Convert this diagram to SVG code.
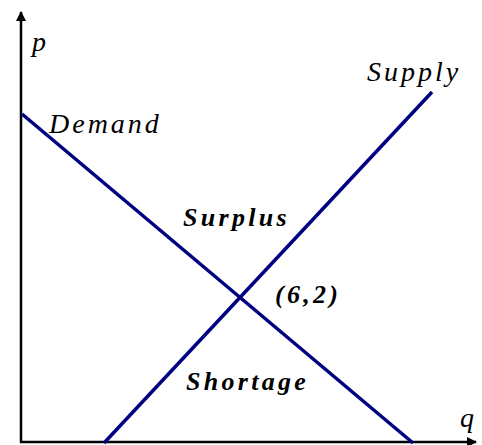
<svg xmlns="http://www.w3.org/2000/svg" width="482" height="445" viewBox="0 0 482 445">
<style>
.ax{stroke:#000;stroke-width:2.5;fill:none}
.cv{stroke:#000080;stroke-width:3.5;fill:none}
.t{font-family:"Liberation Serif","Times New Roman",serif;font-style:italic;font-size:28px;fill:#000;letter-spacing:3px}
.b{font-family:"Liberation Serif","Times New Roman",serif;font-style:italic;font-weight:bold;font-size:26px;fill:#000;letter-spacing:3.3px}
</style>
<defs>
<marker id="ar" viewBox="0 0 10 10" refX="9" refY="5" markerWidth="10" markerHeight="10" markerUnits="userSpaceOnUse" orient="auto">
<path d="M0,0 L10,5 L0,10 z" fill="#000"/>
</marker>
</defs>
<g id="axes">
<line class="ax" x1="21" y1="443" x2="21" y2="12" marker-end="url(#ar)"/>
<line class="ax" x1="20" y1="442" x2="476" y2="442" marker-end="url(#ar)"/>
</g>
<g id="connectors">
<line id="demand" class="cv" x1="22" y1="114" x2="413" y2="443"/>
<line id="supply" class="cv" x1="104" y1="443" x2="432" y2="92"/>
</g>
<g id="labels">
<text class="t" x="32" y="51">p</text>
<text class="t" x="49" y="133">Demand</text>
<text class="t" x="367" y="81">Supply</text>
<text class="b" x="183" y="226">Surplus</text>
<text class="b" x="275" y="303">(6,2)</text>
<text class="b" x="186" y="390">Shortage</text>
<text class="t" x="460" y="427">q</text>
</g>
</svg>
